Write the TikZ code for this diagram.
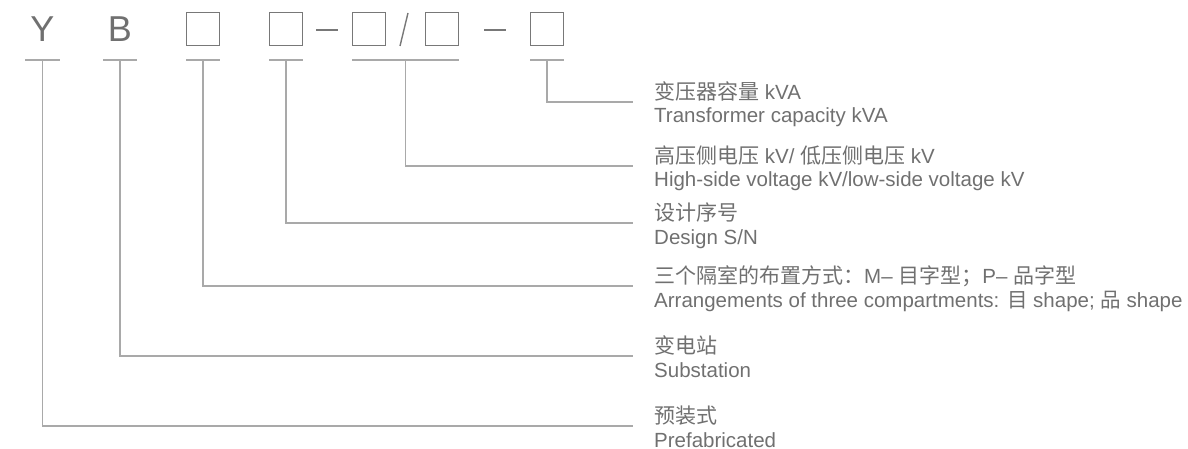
\documentclass[tikz,border=0pt]{standalone}
\usepackage{fontspec}
\setmainfont{Liberation Sans}
\newfontfamily\cjk{Noto Sans CJK SC}
\definecolor{txtgray}{HTML}{707070}
\definecolor{rulegray}{HTML}{A9A9A9}
\definecolor{slotgray}{HTML}{787878}

\begin{document}
\begin{tikzpicture}[x=1pt,y=-1pt,
		code/.style={text=txtgray,inner sep=0pt,anchor=base,font=\fontsize{36}{36}\selectfont},
		slot/.style={draw=slotgray,line width=1.1pt,minimum size=33pt,inner sep=0pt},
		sep/.style={draw=slotgray,line width=2.4pt},
		bar/.style={draw=rulegray,line width=2pt},
		lead/.style={draw=rulegray,line width=1.4pt},
		cn/.style={anchor=base west,inner sep=0pt,text=txtgray,font=\fontsize{20.5}{20.5}\selectfont},
		en/.style={anchor=base west,inner sep=0pt,text=txtgray,font=\fontsize{20.5}{20.5}\selectfont}
		]
	\useasboundingbox (0,0) rectangle (1188,449);
	% model code
	\node [code] (cy) at (42.5,42) {Y};
	\node [code] (cb) at (120,42) {B};
	\node [slot] (s1) at (203,29) {};
	\node [slot] (s2) at (286,29) {};
	\node [slot] (s3) at (369,29) {};
	\node [slot] (s4) at (442,29) {};
	\node [slot] (s5) at (547,29) {};
	\draw [sep] (316,30) -- (338,30);
	\draw [sep,line width=1.4pt] (408,13) -- (400,46);
	\draw [sep] (484,30) -- (506,30);
	% ticks and leaders
	\foreach \k/\x/\h/\ly in {y/42.5/17.5/426, b/120/17/356, 1/203/17/286, 2/286/17/223, 34/405.5/53.5/166, 5/547/17/102} {
		\coordinate (k\k) at (\x,60);
		\coordinate (e\k) at (633,\ly);
		\draw [bar] ([xshift=-\h]k\k) -- ([xshift=\h]k\k);
		\draw [lead] (k\k) |- (e\k);
	}
	% labels
	\node [cn] (c5) at ([xshift=21,yshift=2.4]e5) {{\cjk\fontsize{21}{21}\selectfont 变压器容量} kVA};
	\node [en] (n5) at ([xshift=21,yshift=-21]e5) {Transformer capacity kVA};
	\node [cn] (c34) at ([xshift=21,yshift=2.4]e34) {{\cjk\fontsize{21}{21}\selectfont 高压侧电压} kV/ {\cjk\fontsize{21}{21}\selectfont 低压侧电压} kV};
	\node [en] (n34) at ([xshift=21,yshift=-21]e34) {High-side voltage kV/low-side voltage kV};
	\node [cn] (c2) at ([xshift=21,yshift=2.4]e2) {{\cjk\fontsize{21}{21}\selectfont 设计序号}};
	\node [en] (n2) at ([xshift=21,yshift=-21]e2) {Design S/N};
	\node [cn] (c1) at ([xshift=21,yshift=2.4]e1) {{\cjk\fontsize{21}{21}\selectfont 三个隔室的布置方式：}M– {\cjk\fontsize{21}{21}\selectfont 目字型；}P– {\cjk\fontsize{21}{21}\selectfont 品字型}};
	\node [en] (n1) at ([xshift=21,yshift=-21]e1) {Arrangements of three compartments: {\cjk 目} shape; {\cjk 品} shape};
	\node [cn] (cb2) at ([xshift=21,yshift=2.4]eb) {{\cjk\fontsize{21}{21}\selectfont 变电站}};
	\node [en] (nb) at ([xshift=21,yshift=-21]eb) {Substation};
	\node [cn] (cy2) at ([xshift=21,yshift=2.4]ey) {{\cjk\fontsize{21}{21}\selectfont 预装式}};
	\node [en] (ny) at ([xshift=21,yshift=-21]ey) {Prefabricated};
\end{tikzpicture}
\end{document}
